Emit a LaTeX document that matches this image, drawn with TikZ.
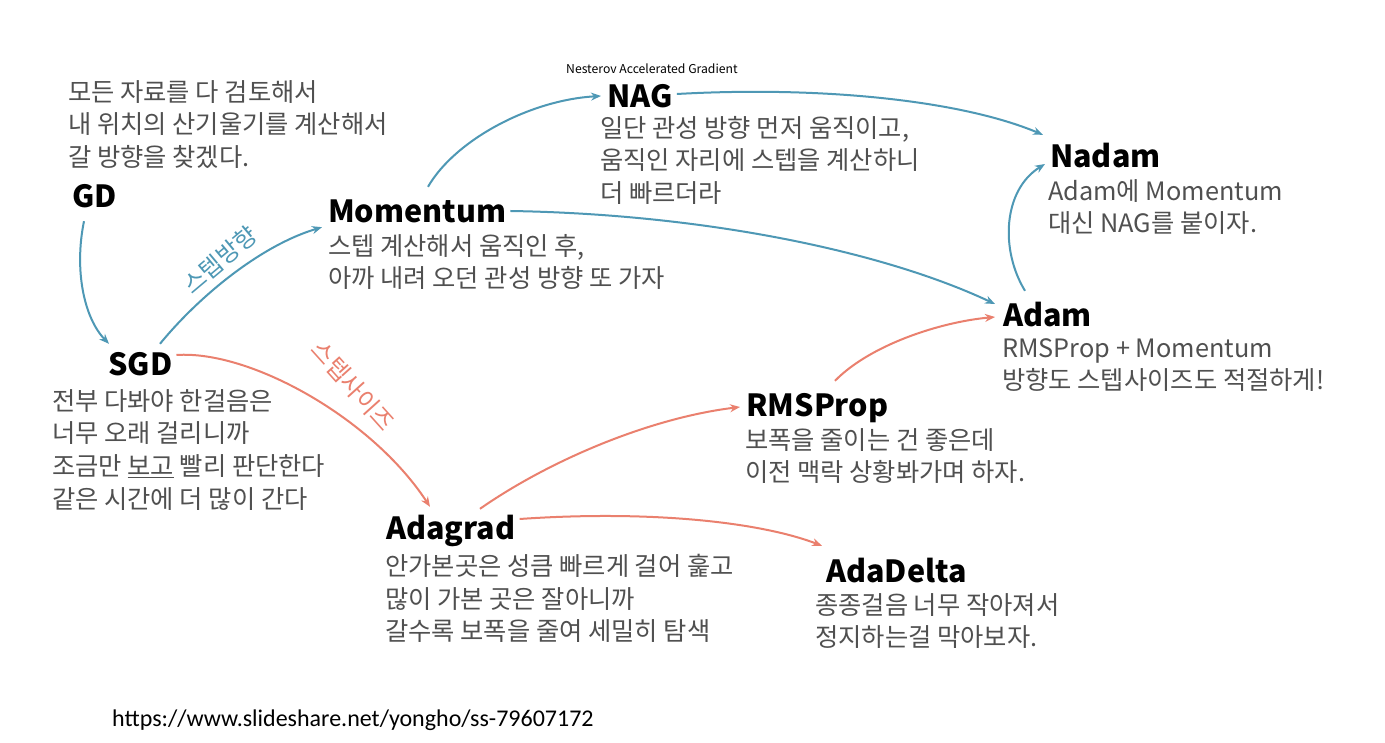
\documentclass[tikz,border=0pt]{standalone}
\usepackage{fontspec}
\setmainfont{Noto Sans CJK KR}
\newfontfamily\urlfont{Carlito}
\usetikzlibrary{arrows.meta,calc}
\definecolor{arrblue}{RGB}{78,152,181}
\definecolor{arrred}{RGB}{234,128,110}
\definecolor{bodygray}{RGB}{80,80,80}
\begin{document}
\begin{tikzpicture}[x=1pt,y=-1pt,
  title/.style={font=\fontsize{30.5}{34}\selectfont\bfseries, text=black, inner sep=0pt, anchor=base west, text height=24pt, text depth=0pt},
  body/.style={font=\fontsize{25.3}{32.7}\selectfont, text=bodygray, inner sep=0pt, anchor=north west, align=left},
  barrow/.style={draw=arrblue, line width=2pt, -{Stealth[length=10pt,width=8pt]}},
  rarrow/.style={draw=arrred, line width=2pt, -{Stealth[length=10pt,width=8pt]}},
  lab/.style={font=\fontsize{24}{28}\selectfont, inner sep=0pt}
]
\useasboundingbox[fill=white] (0,0) rectangle (1385,743);

% titles
\node[title] (GD) at (72,208) {GD};
\node[title] (SGD) at (108,376) {SGD};
\node[title] (Mom) at (328,223) {Momentum};
\node[title] (NAG) at (607,108) {NAG};
\node[title] (Nadam) at (1050,168) {Nadam};
\node[title] (Adam) at (1003,327) {Adam};
\node[title] (RMS) at (746,417) {RMSProp};
\node[title] (Adagrad) at (386,539) {Adagrad};
\node[title] (AdaDelta) at (826,582) {AdaDelta};

\node[font=\fontsize{12.2}{13}\selectfont, text=black, inner sep=0pt, anchor=west] (nesterov) at (566,69) {Nesterov Accelerated Gradient};

% bodies
\node[body] (tGD) at (68,80) {모든 자료를 다 검토해서\\내 위치의 산기울기를 계산해서\\갈 방향을 찾겠다.};
\node[body] (tSGD) at (52,389) {전부 다봐야 한걸음은\\너무 오래 걸리니까\\조금만 \underline{보고} 빨리 판단한다\\같은 시간에 더 많이 간다};
\node[body] (tMom) at (328,234) {스텝 계산해서 움직인 후,\\아까 내려 오던 관성 방향 또 가자};
\node[body] (tNAG) at (600,116) {일단 관성 방향 먼저 움직이고,\\움직인 자리에 스텝을 계산하니\\더 빠르더라};
\node[body] (tNadam) at (1048,179) {Adam에 Momentum\\대신 NAG를 붙이자.};
\node[body] (tAdam) at (1002,338) {RMSProp + Momentum\\방향도 스텝사이즈도 적절하게!};
\node[body] (tRMS) at (745,428) {보폭을 줄이는 건 좋은데\\이전 맥락 상황봐가며 하자.};
\node[body] (tAdagrad) at (385,554) {안가본곳은 성큼 빠르게 걸어 훑고\\많이 가본 곳은 잘아니까\\갈수록 보폭을 줄여 세밀히 탐색};
\node[body] (tAdaDelta) at (815,593) {종종걸음 너무 작아져서\\정지하는걸 막아보자.};

\node[font=\urlfont\fontsize{24}{28}\selectfont, text=black, inner sep=0pt, anchor=base west] (url) at (112,726) {https://www.slideshare.net/yongho/ss-79607172};

% labels on connectors
\node[lab, text=arrblue, rotate=40] (lblDir) at (220,260) {스텝방향};
\node[lab, text=arrred, rotate=-48] (lblSize) at (353,386) {스텝사이즈};

% blue connectors
\draw[barrow] ($(GD.south west)+(12,13)$) .. controls (74,270) and (84,318) .. ($(SGD.north west)+(1,-8)$);
\draw[barrow] ($(SGD.north west)+(52,-8)$) .. controls (200,295) and (262,245) .. ($(Mom.south west)+(-6,4)$);
\draw[barrow] ($(Mom.north west)+(100,-12)$) .. controls (455,140) and (530,100) .. ($(NAG.west)+(-6,0)$);
\draw[barrow] ($(Mom.east)+(4,0)$) .. controls (700,214) and (880,250) .. ($(Adam.west)+(-8,-11)$);
\draw[barrow] ($(NAG.east)+(4,-2)$) .. controls (820,86) and (960,100) .. ($(Nadam.north west)+(-7,-9)$);
\draw[barrow] ($(Adam.north west)+(22,-12)$) .. controls (1000,250) and (1003,190) .. ($(Nadam.west)+(-5,8)$);

% red connectors
\draw[rarrow] ($(SGD.east)+(4,-9)$) .. controls (250,350) and (372,418) .. ($(Adagrad.north west)+(44,-8)$);
\draw[rarrow] ($(Adagrad.north west)+(94,-6)$) .. controls (550,460) and (650,418) .. ($(RMS.west)+(-6,2)$);
\draw[rarrow] ($(Adagrad.east)+(4,-8)$) .. controls (650,510) and (760,522) .. ($(AdaDelta.north west)+(-4,-12)$);
\draw[rarrow] ($(RMS.north west)+(89,-12)$) .. controls (870,345) and (940,322) .. ($(Adam.west)+(-8,2)$);
\end{tikzpicture}
\end{document}
